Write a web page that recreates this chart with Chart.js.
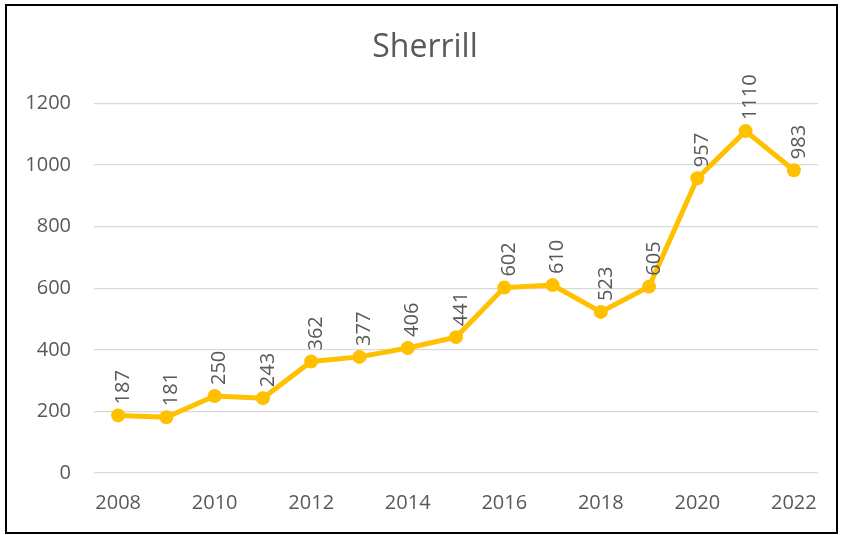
<!DOCTYPE html>
<html>
<head>
<meta charset="utf-8">
<script src="https://cdn.jsdelivr.net/npm/chart.js@4"></script>
<style>
html,body{margin:0;padding:0;background:#fff;}
canvas{display:block;}
</style>
</head>
<body>
<canvas id="c" width="842" height="535"></canvas>
<script>
const years = ["2008","2009","2010","2011","2012","2013","2014","2015","2016","2017","2018","2019","2020","2021","2022"];
const values = [187,181,250,243,362,377,406,441,602,610,523,605,957,1110,983];
const yTicks = [0,200,400,600,800,1000,1200];
const chartTitle = "Sherrill";

const textColor = "#595959";
const lineColor = "#FFC000";
const fontFam = "'Open Sans', 'Liberation Sans', sans-serif";

const frame = {
  id: 'frame',
  afterLayout(chart) {
    const t = chart.titleBlock;
    if (t) { t.left = 8; t.right = 842; t.width = 834; }
  },
  beforeDraw(chart) {
    const c = chart.ctx;
    c.save();
    c.fillStyle = '#fff';
    c.fillRect(0, 0, chart.width, chart.height);
    c.restore();
  },
  afterDraw(chart) {
    const c = chart.ctx;
    c.save();
    c.strokeStyle = '#000';
    c.lineWidth = 2;
    c.strokeRect(6, 5, 831, 528);
    c.restore();
  }
};

const vLabels = {
  id: 'vLabels',
  afterDatasetsDraw(chart) {
    const c = chart.ctx;
    const meta = chart.getDatasetMeta(0);
    const data = chart.data.datasets[0].data;
    c.save();
    c.fillStyle = textColor;
    c.font = "20px " + fontFam;
    c.textAlign = 'left';
    c.textBaseline = 'middle';
    meta.data.forEach((pt, i) => {
      c.save();
      c.translate(pt.x + 5, pt.y - 11);
      c.rotate(-Math.PI / 2);
      c.fillText(String(data[i]), 0, 0);
      c.restore();
    });
    c.restore();
  }
};

new Chart(document.getElementById('c'), {
  type: 'line',
  data: {
    labels: years,
    datasets: [{
      data: values,
      borderColor: lineColor,
      backgroundColor: lineColor,
      borderWidth: 5,
      pointRadius: 7,
      pointBorderWidth: 0,
      pointBackgroundColor: lineColor,
      tension: 0,
      clip: false
    }]
  },
  options: {
    responsive: false,
    animation: false,
    devicePixelRatio: 1,
    layout: { padding: { left: 0, right: 24, top: 0, bottom: 0 } },
    plugins: {
      legend: { display: false },
      tooltip: { enabled: false },
      title: {
        display: true,
        text: chartTitle,
        color: textColor,
        font: { family: fontFam, size: 32, weight: 'normal' },
        padding: { top: 29, bottom: 36 }
      }
    },
    scales: {
      x: {
        offset: true,
        grid: { display: false, drawTicks: false },
        border: { display: false },
        ticks: {
          autoSkip: false,
          maxRotation: 0,
          color: textColor,
          font: { family: fontFam, size: 20 },
          padding: 18,
          callback: function(v, i) { return i % 2 === 0 ? years[i] : ''; }
        },
        afterFit(s) { s.height = 62; }
      },
      y: {
        min: 0,
        max: 1200,
        afterBuildTicks(s) { s.ticks = yTicks.map(v => ({ value: v })); },
        grid: { color: '#d9d9d9', lineWidth: 1.3, drawTicks: false },
        border: { display: false },
        ticks: {
          color: textColor,
          font: { family: fontFam, size: 20 },
          padding: 23,
          callback: function(v) { return String(v); }
        },
        afterFit(s) { s.width = 94; }
      }
    }
  },
  plugins: [frame, vLabels]
});
</script>
</body>
</html>
